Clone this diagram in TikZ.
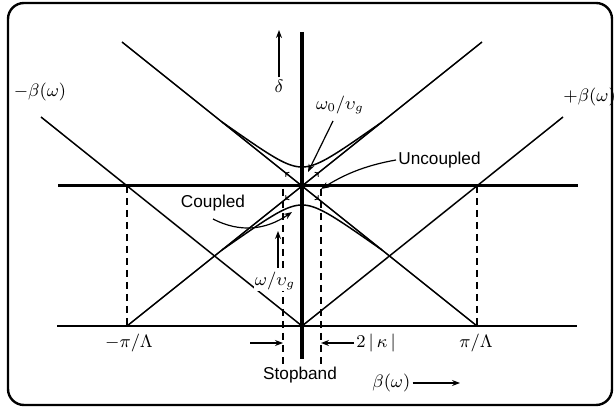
\documentclass[tikz,border=0pt]{standalone}
\usepackage{fontspec}
\newfontfamily\labfont{Liberation Sans}
\usetikzlibrary{arrows.meta}
\begin{document}
\begin{tikzpicture}[x=0.5pt,y=-0.5pt,
  thinline/.style={line width=0.75pt},
  axisline/.style={line width=1.7pt},
  dashv/.style={line width=0.7pt, dash pattern=on 3.5pt off 2.5pt},
  lbl/.style={font=\labfont\fontsize{8.6}{10}\selectfont, inner sep=1pt},
  mlbl/.style={font=\fontsize{9}{10}\selectfont, inner sep=1pt},
  ptr/.style={line width=0.6pt, -{Stealth[length=4pt,width=3pt]}},
  smalltip/.style={line width=0.5pt, -{To[length=1.8pt,width=3.2pt]}}]
\useasboundingbox (0,0) rectangle (614,410);
\draw[line width=1.2pt, rounded corners=8pt] (8,3) rectangle (612,405);
% key points
\coordinate (C) at (302,186);
\coordinate (B0) at (302,326);
\coordinate (PiM) at (127,326);
\coordinate (PiP) at (477,326);
\coordinate (HM) at (127,186);
\coordinate (HP) at (477,186);
\coordinate (TL) at (122,42);
\coordinate (TR) at (482,42);
\coordinate (BL) at (41,117);
\coordinate (BR) at (563,117);
\coordinate (HL0) at (58,186);
\coordinate (HR0) at (578,186);
\coordinate (BL0) at (57,326);
\coordinate (BR0) at (577,326);
\coordinate (Vtop) at (302,32);
\coordinate (Vbot) at (302,359);
% straight (uncoupled) lines
\draw[thinline] (PiM) -- (TR);
\draw[thinline] (PiP) -- (TL);
\draw[thinline] (B0) -- (BL);
\draw[thinline] (B0) -- (BR);
% axes
\draw[line width=1.5pt] (HL0) -- (HR0);
\draw[line width=0.9pt] (BL0) -- (BR0);
\draw[axisline] (Vtop) -- (Vbot);
% dashed verticals
\draw[dashv] (HM) -- (PiM);
\draw[dashv] (HP) -- (PiP);
\coordinate (SLt) at (283,189); \coordinate (SLb) at (283,368);
\coordinate (SRt) at (321,189); \coordinate (SRb) at (321,368);
\draw[dashv] (SLt) -- (SLb);
\draw[dashv] (SRt) -- (SRb);
% coupled curves (hyperbola-like, merging into the straight lines)
\draw[thinline] plot[domain=-80:80, samples=81] ({302+\x},{186-(sqrt(361+0.64*\x*\x)-(sqrt(361+0.64*6400)-64)*(\x/80)*(\x/80))});
\draw[thinline] plot[domain=-80:80, samples=81] ({302+\x},{186+(sqrt(361+0.64*\x*\x)-(sqrt(361+0.64*6400)-64)*(\x/80)*(\x/80))});
% small tips on the straight lines near the crossing
\draw[smalltip] (290,176.4) -- (285,172.4);
\draw[smalltip] (314,176.4) -- (319,172.4);
\draw[smalltip] (290,195.6) -- (285,199.6);
\draw[smalltip] (314,195.6) -- (319,199.6);
% labels
\node[mlbl] (mb) at (40,92) {$-\beta(\omega)$};
\node[mlbl, anchor=west] (pb) at (561,97) {$+\beta(\omega)$};
\node[mlbl] (delta) at (279,86) {$\delta$};
\coordinate (dtip) at (279,30);
\draw[ptr] (delta.north) -- (dtip);
\node[mlbl] (w0) at (340,105) {$\omega_0/\upsilon_g$};
\coordinate (w0s) at (333,121);
\coordinate (w0tip) at (308,172);
\draw[ptr] (w0s) -- (w0tip);
\node[lbl, anchor=west] (unc) at (396,160) {Uncoupled};
\coordinate (unctip) at (321,189);
\draw[ptr] (unc.west) .. controls (362,166) and (342,176) .. (unctip);
\node[lbl] (cpl) at (213,203) {Coupled};
\coordinate (cpls) at (213,219);
\coordinate (cpltip) at (292,212);
\draw[ptr] (cpls) .. controls (240,233) and (266,230) .. (cpltip);
\node[mlbl, fill=white, inner sep=0.5pt] (wv) at (275,281) {$\omega/\upsilon_g$};
\coordinate (wvs) at (278,268);
\coordinate (wvtip) at (278,231);
\draw[ptr] (wvs) -- (wvtip);
\node[mlbl] (pim) at (129,343) {$-\pi/\Lambda$};
\node[mlbl] (pip) at (476,343) {$\pi/\Lambda$};
\coordinate (ka) at (250,343); \coordinate (kat) at (283,343);
\draw[ptr] (ka) -- (kat);
\node[mlbl, anchor=west] (kap) at (354,343) {$2\,|\,\kappa\,|$};
\coordinate (kbt) at (321,343);
\draw[ptr] (kap.west) -- (kbt);
\node[lbl] (stop) at (300,375) {Stopband};
\node[mlbl, anchor=west] (bw) at (370,383) {$\beta(\omega)$};
\coordinate (bwt) at (460,383);
\draw[ptr] (bw.east) -- (bwt);
\end{tikzpicture}
\end{document}
